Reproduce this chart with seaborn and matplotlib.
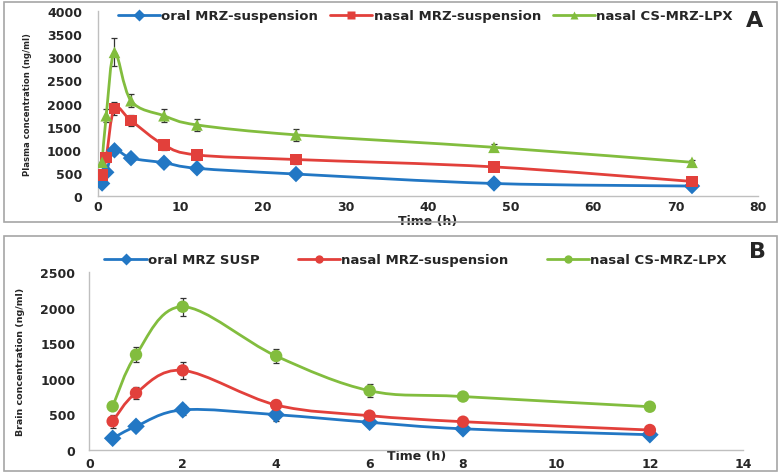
import numpy as np
import pandas as pd
import seaborn as sns
import matplotlib.pyplot as plt
from matplotlib.path import Path
from matplotlib.patches import PathPatch, Rectangle
from matplotlib.lines import Line2D

# panel A - plasma
time_a = [0.5, 1, 2, 4, 8, 12, 24, 48, 72]
oral_a = [265, 508, 985, 815, 715, 595, 470, 265, 210]
nasal_a = [445, 830, 1890, 1630, 1100, 885, 785, 625, 310]
lpx_a = [725, 1735, 3110, 2060, 1735, 1535, 1320, 1050, 725]
oral_a_err = [0, 40, 60, 50, 40, 40, 30, 30, 20]
nasal_a_err = [40, 60, 145, 123, 116, 108, 100, 70, 30]
lpx_a_err = [0, 140, 304, 145, 145, 123, 130, 80, 40]

# panel B - brain
time_b = [0.5, 1, 2, 4, 6, 8, 12]
oral_b = [165, 333, 565, 497, 390, 298, 215]
nasal_b = [404, 802, 1120, 633, 483, 398, 281]
lpx_b = [614, 1341, 2016, 1322, 834, 752, 609]
oral_b_err = [20, 40, 70, 94, 30, 20, 15]
nasal_b_err = [94, 80, 117, 66, 40, 30, 20]
lpx_b_err = [30, 103, 127, 94, 94, 50, 20]

names_a = ["oral MRZ-suspension", "nasal MRZ-suspension", "nasal CS-MRZ-LPX"]
names_b = ["oral MRZ SUSP", "nasal MRZ-suspension", "nasal CS-MRZ-LPX"]
colors = ["#2277C4", "#E2403B", "#82BD3E"]

sns.set_style("white")
plt.rcParams["font.family"] = ["DejaVu Sans"]


def smooth_curve(ax, x, y, color):
    # Excel style smoothed line: cubic bezier through the points
    p = np.column_stack([x, y]).astype(float)
    n = len(p)
    verts = [p[0]]
    codes = [Path.MOVETO]
    for i in range(n - 1):
        prev = p[i - 1] if i > 0 else p[i]
        nxt = p[i + 2] if i + 2 < n else p[i + 1]
        c1 = p[i] + (p[i + 1] - prev) / 6
        c2 = p[i + 1] - (nxt - p[i]) / 6
        verts += [c1, c2, p[i + 1]]
        codes += [Path.CURVE4] * 3
    ax.add_patch(PathPatch(Path(verts, codes), fill=False, edgecolor=color,
                           lw=2.0, capstyle="round", joinstyle="round", zorder=2))


def draw_panel(ax, t, series, errs, names, markers, msize):
    rows = []
    for name, vals in zip(names, series):
        for tt, v in zip(t, vals):
            rows.append({"time": tt, "conc": v, "group": name})
    df = pd.DataFrame(rows)
    for vals, err, c in zip(series, errs, colors):
        ax.errorbar(t, vals, yerr=err, fmt="none", ecolor="#333333",
                    elinewidth=0.9, capsize=2.5, capthick=0.9, zorder=1)
        smooth_curve(ax, t, vals, c)
    sns.scatterplot(data=df, x="time", y="conc", hue="group", style="group",
                    palette=colors, markers=markers, s=msize, edgecolor="none",
                    legend=False, ax=ax, zorder=3)
    handles = [Line2D([], [], color=c, lw=2, marker=m, markersize=6,
                      markeredgecolor="none") for c, m in zip(colors, markers)]
    return handles


def style_axes(ax, ypad, xpad):
    for s in ["top", "right"]:
        ax.spines[s].set_visible(False)
    for s in ["left", "bottom"]:
        ax.spines[s].set_color("#BFBFBF")
        ax.spines[s].set_linewidth(1)
    ax.tick_params(axis="y", direction="out", length=3, color="#BFBFBF",
                   labelsize=9, pad=ypad)
    ax.tick_params(axis="x", direction="in", length=3, color="#BFBFBF",
                   labelsize=9, pad=xpad)
    for lab in ax.get_xticklabels() + ax.get_yticklabels():
        lab.set_fontweight("bold")


fig = plt.figure(figsize=(7.82, 4.77), dpi=100)
ax1 = fig.add_axes([0.1253, 0.5876, 0.844, 0.3866])
ax2 = fig.add_axes([0.1142, 0.0545, 0.8363, 0.3725])

h1 = draw_panel(ax1, time_a, [oral_a, nasal_a, lpx_a],
                [oral_a_err, nasal_a_err, lpx_a_err], names_a,
                ["D", "s", "^"], 70)
ax1.set_xlim(0, 80)
ax1.set_ylim(0, 4000)
ax1.set_xticks(range(0, 81, 10))
ax1.set_yticks(range(0, 4001, 500))
style_axes(ax1, 8.5, 3)
ax1.set_xlabel("Time (h)", fontsize=9, fontweight="bold", labelpad=0.5)
ax1.set_ylabel("Plasma concentration (ng/ml)", fontsize=6.1,
               fontweight="bold", family=["DejaVu Sans Condensed", "DejaVu Sans"],
               labelpad=11)
ax1.legend(h1, names_a, ncol=3, loc="center left", bbox_to_anchor=(0.012, 0.975),
           frameon=False, handlelength=3.2, handletextpad=0.1,
           columnspacing=0.9, prop={"weight": "bold", "size": 9.5})
fig.text(0.965, 0.955, "A", fontsize=16, fontweight="bold", ha="center", va="center")

h2 = draw_panel(ax2, time_b, [oral_b, nasal_b, lpx_b],
                [oral_b_err, nasal_b_err, lpx_b_err], names_b,
                ["D", "o", "o"], 80)
ax2.set_xlim(0, 14)
ax2.set_ylim(0, 2500)
ax2.set_xticks(range(0, 15, 2))
ax2.set_yticks(range(0, 2501, 500))
style_axes(ax2, 7, 5)
ax2.set_xlabel("Time (h)", fontsize=9, fontweight="bold", labelpad=-15)
ax2.set_ylabel("Brain concentration (ng/ml)", fontsize=6.8,
               fontweight="bold", family=["DejaVu Sans Condensed", "DejaVu Sans"],
               labelpad=11)
ax2.legend(h2, names_b, ncol=3, loc="center left", bbox_to_anchor=(0.005, 1.07),
           frameon=False, handlelength=3.2, handletextpad=0.1,
           columnspacing=2.9, prop={"weight": "bold", "size": 9.5})
fig.text(0.969, 0.472, "B", fontsize=16, fontweight="bold", ha="center", va="center")

# panel frames
fig.patches.append(Rectangle((4 / 782, 1 - 223 / 477), 773 / 782, 220 / 477,
                             transform=fig.transFigure, fill=False,
                             edgecolor="#A6A6A6", lw=1.2))
fig.patches.append(Rectangle((4 / 782, 1 - 472 / 477), 773 / 782, 235 / 477,
                             transform=fig.transFigure, fill=False,
                             edgecolor="#A6A6A6", lw=1.2))

fig.savefig("out.png", dpi=100)
